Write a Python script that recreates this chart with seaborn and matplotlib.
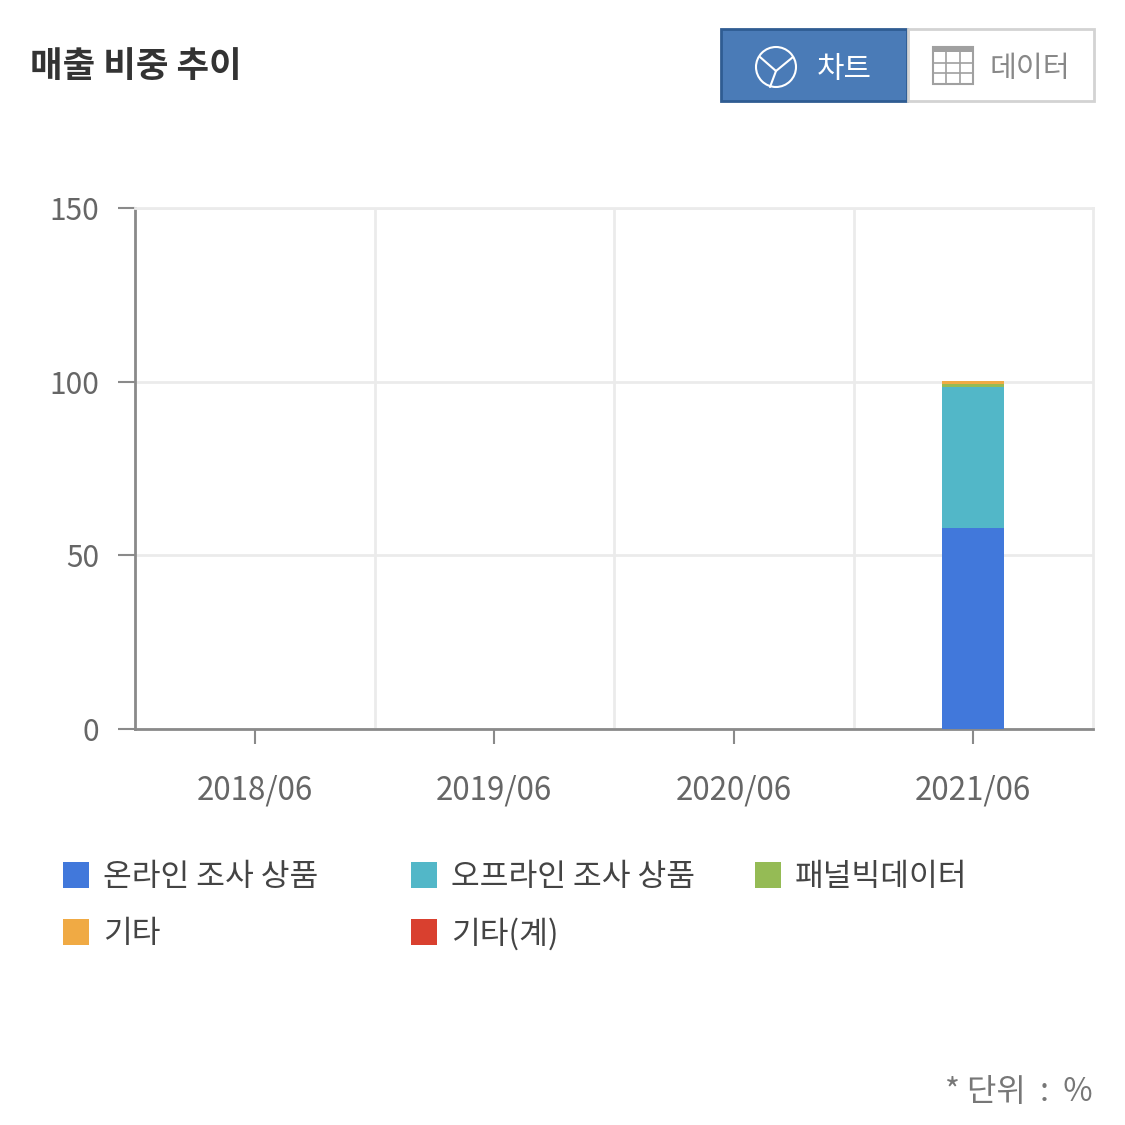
import matplotlib
matplotlib.use("Agg")
import matplotlib.pyplot as plt
import seaborn as sns
import numpy as np
import pandas as pd
from matplotlib.patches import Rectangle, Circle
from matplotlib.lines import Line2D

# ---- data ----
periods = ["2018/06", "2019/06", "2020/06", "2021/06"]
series_names = ["온라인 조사 상품", "오프라인 조사 상품", "패널빅데이터", "기타", "기타(계)"]
online = [0, 0, 0, 57.9]
offline = [0, 0, 0, 40.6]
panel = [0, 0, 0, 0.7]
etc = [0, 0, 0, 0.9]
etc_total = [0, 0, 0, 0]
colors = ["#4178db", "#52b7c8", "#95bb55", "#f0aa44", "#d9402f"]
yticks = [0, 50, 100, 150]

sns.set_theme(style="white")
plt.rcParams["font.family"] = ["Noto Sans CJK KR", "DejaVu Sans"]

W = H = 1125
fig = plt.figure(figsize=(11.25, 11.25), dpi=100)
fig.patch.set_facecolor("white")

def fx(x):
    return x / W

def fy(y):
    return 1 - y / H

ax = fig.add_axes([fx(135), fy(729), fx(1093) - fx(135), fy(208) - fy(729)])

values = [online, offline, panel, etc, etc_total]
cum = np.cumsum(np.array(values, dtype=float), axis=0)
# draw from the tallest cumulative to the bottom layer (stacked look)
for i in range(len(values) - 1, -1, -1):
    df = pd.DataFrame({"period": periods, "value": cum[i]})
    sns.barplot(data=df, x="period", y="value", color=colors[i], width=0.26,
                saturation=1, ax=ax, zorder=3, linewidth=0)

ax.set_xlim(-0.5, 3.5)
ax.set_ylim(0, 150)
ax.set_yticks(yticks)
ax.set_yticklabels([str(v) for v in yticks])
ax.set_xticks(range(len(periods)))
ax.set_xticklabels(periods)
ax.set_xticks([0.5, 1.5, 2.5], minor=True)
ax.set_xlabel("")
ax.set_ylabel("")

ax.grid(False)
ax.yaxis.grid(True, color="#ebebeb", linewidth=2, zorder=0)
ax.xaxis.grid(True, which="minor", color="#ebebeb", linewidth=2, zorder=0)
ax.set_axisbelow(True)

for s in ["left", "bottom"]:
    ax.spines[s].set_color("#8a8a8a")
    ax.spines[s].set_linewidth(2)
for s in ["top", "right"]:
    ax.spines[s].set_color("#ebebeb")
    ax.spines[s].set_linewidth(2)

ax.tick_params(axis="y", which="major", length=12, width=1.5, color="#8a8a8a",
               labelsize=21.5, labelcolor="#666666", pad=14, left=True)
ax.tick_params(axis="x", which="major", length=11, width=1.5, color="#8a8a8a",
               labelsize=22.5, labelcolor="#666666", pad=22, bottom=True)
ax.tick_params(axis="x", which="minor", length=0)

# ---- title ----
fig.text(fx(30), fy(66), "매출 비중 추이", fontsize=25.5, fontweight="bold",
         color="#333333", ha="left", va="center")

# ---- buttons ----
fig.add_artist(Rectangle((fx(721), fy(101)), fx(907) - fx(721), fy(29) - fy(101),
                         transform=fig.transFigure, facecolor="#4a7bb7",
                         edgecolor="#2f5c92", linewidth=2))
fig.add_artist(Rectangle((fx(908), fy(101)), fx(1094) - fx(908), fy(29) - fy(101),
                         transform=fig.transFigure, facecolor="white",
                         edgecolor="#d3d3d3", linewidth=2))
# pie icon
cx, cy, r = 776, 67, 20
fig.add_artist(Circle((fx(cx), fy(cy)), fx(r), transform=fig.transFigure,
                      facecolor="none", edgecolor="white", linewidth=1.5))
center = (776, 71)
for ex, ey in [(760, 57), (793, 57), (770, 87)]:
    fig.add_artist(Line2D([fx(center[0]), fx(ex)], [fy(center[1]), fy(ey)],
                          transform=fig.transFigure, color="white", linewidth=1.5))
fig.text(fx(844), fy(69), "차트", fontsize=21.5, color="white", ha="center", va="center")
# grid icon
gx0, gx1, gy0, gy1 = 933, 973, 47, 84
fig.add_artist(Rectangle((fx(gx0), fy(gy1)), fx(gx1) - fx(gx0), fy(gy0) - fy(gy1),
                         transform=fig.transFigure, facecolor="none",
                         edgecolor="#a0a0a0", linewidth=1.5))
fig.add_artist(Rectangle((fx(gx0), fy(gy0 + 5)), fx(gx1) - fx(gx0), fy(gy0) - fy(gy0 + 5),
                         transform=fig.transFigure, facecolor="#a0a0a0",
                         edgecolor="none"))
for gx in [946, 960]:
    fig.add_artist(Line2D([fx(gx), fx(gx)], [fy(gy0), fy(gy1)],
                          transform=fig.transFigure, color="#a0a0a0", linewidth=1.2))
for gyy in [63, 73]:
    fig.add_artist(Line2D([fx(gx0), fx(gx1)], [fy(gyy), fy(gyy)],
                          transform=fig.transFigure, color="#a0a0a0", linewidth=1.2))
fig.text(fx(1030), fy(69), "데이터", fontsize=21, color="#888888", ha="center", va="center")

# ---- legend ----
legend_pos = [(63, 875), (411, 875), (755, 875), (63, 932), (411, 932)]
for (lx, ly), name, col in zip(legend_pos, series_names, colors):
    fig.add_artist(Rectangle((fx(lx), fy(ly + 13)), fx(26), fy(ly - 13) - fy(ly + 13),
                             transform=fig.transFigure, facecolor=col, edgecolor="none"))
    fig.text(fx(lx + 40), fy(ly + 2), name, fontsize=22.5, color="#444444",
             ha="left", va="center")

# ---- footer ----
fig.text(fx(1093), fy(1092), "* 단위  :  %", fontsize=23, color="#777777",
         ha="right", va="center")

fig.savefig("out.png", dpi=100, facecolor="white")
